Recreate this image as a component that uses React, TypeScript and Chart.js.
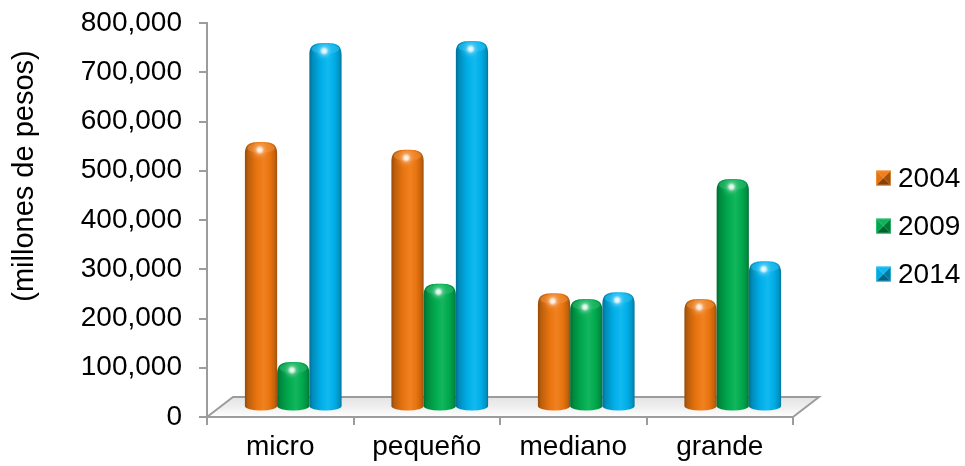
import React, { useEffect, useRef } from 'react';
import { Chart, registerables } from 'chart.js';

Chart.register(...registerables);

// ---- data ----
const categories = ['micro', 'pequeño', 'mediano', 'grande'];
const seriesNames = ['2004', '2009', '2014'];
const values2004 = [529000, 513000, 222000, 210000];
const values2009 = [82000, 241000, 210000, 454000];
const values2014 = [730000, 734000, 224000, 287000];
const yAxisTitle = '(millones de pesos)';
const yMin = 0;
const yMax = 800000;
const yStep = 100000;

// ---- styling ----
const seriesColors = ['#F0780F', '#00B050', '#00B4F0'];
const FONT = '"Liberation Sans", Arial, sans-serif';
const FONT_SIZE = 28;
const AXIS_GRAY = '#9c9c9c';
const DEPTH_X = 26; // floor depth, horizontal
const DEPTH_Y = 20; // floor depth, vertical

function toRgb(hex: string): number[] {
  const n = parseInt(hex.slice(1), 16);
  return [(n >> 16) & 255, (n >> 8) & 255, n & 255];
}

function tone(hex: string, f: number, a = 1): string {
  const [r, g, b] = toRgb(hex);
  const m = (c: number) =>
    f <= 1 ? Math.round(c * f) : Math.round(c + (255 - c) * (f - 1));
  return `rgba(${m(r)},${m(g)},${m(b)},${a})`;
}

// Perspective floor under the bars
const floorPlugin = {
  id: 'floor3d',
  beforeDraw(chart: any) {
    const { ctx, chartArea } = chart;
    const { left, right, bottom } = chartArea;
    ctx.save();
    const grad = ctx.createLinearGradient(0, bottom - DEPTH_Y, 0, bottom);
    grad.addColorStop(0, '#e4e4e4');
    grad.addColorStop(0.55, '#f0f0f0');
    grad.addColorStop(1, '#ffffff');
    ctx.beginPath();
    ctx.moveTo(left, bottom);
    ctx.lineTo(right, bottom);
    ctx.lineTo(right + DEPTH_X, bottom - DEPTH_Y);
    ctx.lineTo(left + DEPTH_X, bottom - DEPTH_Y);
    ctx.closePath();
    ctx.fillStyle = grad;
    ctx.fill();
    ctx.strokeStyle = AXIS_GRAY;
    ctx.lineWidth = 2;
    ctx.lineJoin = 'miter';
    ctx.beginPath();
    ctx.moveTo(left, bottom);
    ctx.lineTo(left + DEPTH_X, bottom - DEPTH_Y);
    ctx.lineTo(right + DEPTH_X, bottom - DEPTH_Y);
    ctx.lineTo(right, bottom);
    ctx.stroke();
    ctx.restore();
  },
};

function drawCylinder(
  ctx: CanvasRenderingContext2D,
  cx: number,
  topY: number,
  bottomY: number,
  w: number,
  color: string
) {
  const rx = w / 2;
  const ryB = 4.5;
  const capH = Math.min(12, (bottomY - topY) / 2);
  const left = cx - rx;
  const right = cx + rx;

  ctx.save();
  ctx.beginPath();
  ctx.moveTo(left, bottomY);
  ctx.lineTo(left, topY + capH);
  ctx.bezierCurveTo(left, topY + 1, cx - rx * 0.62, topY, cx, topY);
  ctx.bezierCurveTo(cx + rx * 0.62, topY, right, topY + 1, right, topY + capH);
  ctx.lineTo(right, bottomY);
  ctx.ellipse(cx, bottomY, rx, ryB, 0, 0, Math.PI, false);
  ctx.closePath();

  const g = ctx.createLinearGradient(left, 0, right, 0);
  g.addColorStop(0, tone(color, 0.62));
  g.addColorStop(0.1, tone(color, 0.78));
  g.addColorStop(0.35, tone(color, 0.96));
  g.addColorStop(0.58, tone(color, 1.07));
  g.addColorStop(0.78, tone(color, 0.96));
  g.addColorStop(0.92, tone(color, 0.82));
  g.addColorStop(1, tone(color, 0.66));
  ctx.fillStyle = g;
  ctx.fill();
  ctx.clip();

  // top face
  ctx.beginPath();
  ctx.ellipse(cx, topY + 6, rx * 0.85, 5, 0, 0, Math.PI * 2);
  ctx.fillStyle = tone(color, 1.2, 0.5);
  ctx.fill();

  // soft specular glow
  const hx = cx - w * 0.04;
  const hy = topY + 8;
  const rg = ctx.createRadialGradient(hx, hy, 0, hx, hy, 12);
  rg.addColorStop(0, 'rgba(255,255,255,0.95)');
  rg.addColorStop(0.18, 'rgba(255,255,255,0.8)');
  rg.addColorStop(0.4, tone(color, 1.4, 0.55));
  rg.addColorStop(0.7, tone(color, 1.15, 0.2));
  rg.addColorStop(1, tone(color, 1.1, 0));
  ctx.fillStyle = rg;
  ctx.fillRect(hx - 13, hy - 13, 26, 26);
  ctx.restore();
}

// Rounded columns drawn from the bar elements' geometry
const cylinderPlugin = {
  id: 'cylinders',
  afterDatasetsDraw(chart: any) {
    const { ctx } = chart;
    const shiftX = DEPTH_X / 2;
    const shiftY = DEPTH_Y / 2;
    const nCat = chart.data.labels.length;
    for (let i = 0; i < nCat; i++) {
      chart.data.datasets.forEach((ds: any, j: number) => {
        const meta = chart.getDatasetMeta(j);
        const el = meta.data[i];
        if (!el) return;
        const { x, y, base, width } = el.getProps(['x', 'y', 'base', 'width'], true);
        const faceY = y - shiftY;
        const topY = faceY - 4.5;
        drawCylinder(ctx, x + shiftX, topY, base - shiftY, width, seriesColors[j]);
      });
    }
  },
};

function drawPyramid(ctx: CanvasRenderingContext2D, x: number, y: number, s: number, color: string) {
  const cx = x + s / 2;
  const cy = y + s / 2;
  const tri = (pts: number[][], fill: string) => {
    ctx.beginPath();
    ctx.moveTo(pts[0][0], pts[0][1]);
    ctx.lineTo(pts[1][0], pts[1][1]);
    ctx.lineTo(pts[2][0], pts[2][1]);
    ctx.closePath();
    ctx.fillStyle = fill;
    ctx.fill();
  };
  tri([[x, y], [x + s, y], [cx, cy]], tone(color, 1.05));
  tri([[x, y], [x, y + s], [cx, cy]], tone(color, 0.95));
  tri([[x + s, y], [x + s, y + s], [cx, cy]], tone(color, 0.68));
  tri([[x, y + s], [x + s, y + s], [cx, cy]], tone(color, 0.55));
  ctx.strokeStyle = tone(color, 1.3, 0.6);
  ctx.lineWidth = 1;
  ctx.strokeRect(x + 0.5, y + 0.5, s - 1, s - 1);
}

// Axis title and series key
const annotationPlugin = {
  id: 'titleAndKey',
  afterDraw(chart: any) {
    const { ctx } = chart;
    ctx.save();
    ctx.fillStyle = '#000';

    ctx.save();
    ctx.font = `29px ${FONT}`;
    ctx.translate(25, 176);
    ctx.rotate(-Math.PI / 2);
    ctx.textAlign = 'center';
    ctx.textBaseline = 'middle';
    ctx.fillText(yAxisTitle, 0, 0);
    ctx.restore();

    ctx.font = `${FONT_SIZE}px ${FONT}`;
    const keyX = 876;
    const keyY0 = 178;
    const keyGap = 48;
    const box = 15;
    ctx.textAlign = 'left';
    ctx.textBaseline = 'middle';
    chart.data.datasets.forEach((ds: any, i: number) => {
      const cy = keyY0 + i * keyGap;
      drawPyramid(ctx, keyX, cy - box / 2, box, seriesColors[i]);
      ctx.fillStyle = '#000';
      ctx.fillText(ds.label, keyX + 22, cy + 1);
    });
    ctx.restore();
  },
};

export default function App() {
  const canvasRef = useRef<HTMLCanvasElement | null>(null);

  useEffect(() => {
    document.body.style.margin = '0';
    const canvas = canvasRef.current;
    if (!canvas) return;
    const seriesValues = [values2004, values2009, values2014];
    const chart = new Chart(canvas, {
      type: 'bar',
      data: {
        labels: categories,
        datasets: seriesNames.map((name, i) => ({
          label: name,
          data: seriesValues[i],
          backgroundColor: 'rgba(0,0,0,0)',
          borderWidth: 0,
          categoryPercentage: 0.66,
          barPercentage: 1,
        })),
      },
      options: {
        animation: false,
        responsive: false,
        devicePixelRatio: 1,
        events: [],
        layout: { padding: { top: 23, right: 172, left: 0, bottom: 0 } },
        plugins: {
          legend: { display: false },
          tooltip: { enabled: false },
          title: { display: false },
        },
        scales: {
          x: {
            ticks: {
              color: '#000',
              font: { family: FONT, size: FONT_SIZE },
              padding: 5,
              maxRotation: 0,
              autoSkip: false,
            },
            grid: {
              drawOnChartArea: false,
              offset: true,
              tickLength: 8,
              color: AXIS_GRAY,
              lineWidth: 2,
            },
            border: { display: true, color: AXIS_GRAY, width: 2 },
            afterFit: (s: any) => {
              s.height = 49;
              s.paddingLeft = 0;
              s.paddingRight = 0;
            },
          },
          y: {
            min: yMin,
            max: yMax,
            ticks: {
              stepSize: yStep,
              color: '#000',
              font: { family: FONT, size: FONT_SIZE },
              padding: 17,
              callback: (v: any) => Number(v).toLocaleString('en-US'),
            },
            grid: {
              drawOnChartArea: false,
              tickLength: 8,
              color: AXIS_GRAY,
              lineWidth: 2,
            },
            border: { display: true, color: AXIS_GRAY, width: 2 },
            afterFit: (s: any) => {
              s.width = 207;
              s.paddingTop = 0;
              s.paddingBottom = 0;
            },
          },
        },
      },
      plugins: [floorPlugin, cylinderPlugin, annotationPlugin],
    });
    return () => chart.destroy();
  }, []);

  return (
    <div style={{ width: 965, height: 466 }}>
      <canvas ref={canvasRef} width={965} height={466} style={{ display: 'block' }} />
    </div>
  );
}
